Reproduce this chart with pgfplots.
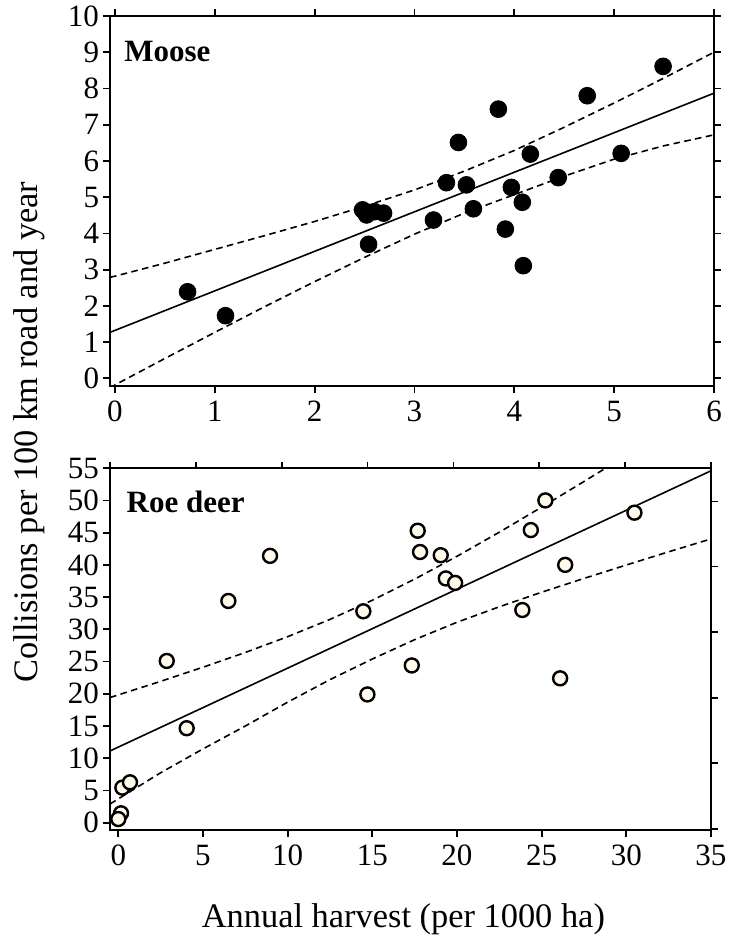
\documentclass[border=0pt]{standalone}
\usepackage{fontspec}
\setmainfont{Liberation Serif}
\usepackage{pgfplots}
\pgfplotsset{compat=1.18}

\definecolor{cream}{HTML}{FFF9EA}

\pgfplotsset{
  panel/.style={
    scale only axis,
    anchor=south west,
    axis line style={line width=1pt},
    every tick/.style={line width=0.9pt, black},
    major tick length=3.3pt,
    tick align=outside,
    ticklabel style={font=\fontsize{15.5}{18}\selectfont},
    yticklabel style={inner sep=2pt},
    xticklabel style={inner sep=4pt},
    /pgf/number format/assume math mode=true,
  },
  fit/.style={black, line width=0.8pt, no marks},
  band/.style={black, line width=0.8pt, no marks, dash pattern=on 3.3pt off 2.2pt},
}

\begin{document}
\begin{tikzpicture}

% ---- Moose ----
\begin{axis}[panel,
    at={(55pt,276pt)}, width=302pt, height=185pt,
    xmin=-0.05, xmax=6, ymin=-0.21, ymax=10,
    xtick={0,...,6}, ytick={0,...,10},
  ]
  \addplot[band] coordinates {
    (-0.05,2.79) (0,2.82) (0.5,3.18) (1,3.56) (1.5,3.94) (2,4.33) (2.5,4.75)
    (3,5.20) (3.5,5.72) (4,6.29) (4.5,6.93) (5,7.60) (5.5,8.29) (6,9.00)
  };
  \addplot[band] coordinates {
    (-0.05,-0.27) (0,-0.18) (0.5,0.55) (1,1.27) (1.5,1.98) (2,2.67) (2.5,3.34)
    (3,3.98) (3.5,4.56) (4,5.07) (4.5,5.58) (5,6.05) (5.5,6.42) (6,6.72)
  };
  \addplot[fit] coordinates {(-0.05,1.27) (6,7.87)};
  \addplot[only marks, mark=*, mark size=4.2pt, mark options={fill=black, draw=black}]
    coordinates {
    (0.727,2.39) (1.107,1.73) (2.48,4.65) (2.52,4.51) (2.60,4.60) (2.69,4.56)
    (2.54,3.70) (3.19,4.37) (3.32,5.40) (3.44,6.51) (3.52,5.34) (3.59,4.68)
    (3.84,7.43) (3.91,4.12) (3.97,5.27) (4.08,4.86) (4.09,3.11) (4.16,6.19)
    (4.44,5.54) (4.73,7.80) (5.07,6.21) (5.49,8.61)
  };
  \node[anchor=west, font=\fontsize{15.5}{18}\selectfont\bfseries]
    at (rel axis cs:0.012,0.903) {Moose};
\end{axis}

% ---- Roe deer ----
\begin{axis}[panel,
    at={(55pt,54pt)}, width=300.5pt, height=180.9pt,
    xmin=-0.49, xmax=35, ymin=-1.13, ymax=55,
    xtick={0,5,...,35}, ytick={0,5,...,55},
    xtick pos=left, ytick pos=left,
  ]
  \addplot[band] coordinates {
    (-0.49,19.42) (2.5,21.93) (5,24.12) (7.5,26.41) (10,28.86) (12.5,31.54)
    (15,34.51) (17.5,37.79) (20,41.33) (22.5,45.07) (25,48.96) (27.5,52.94) (30,56.98)
  };
  \addplot[band] coordinates {
    (-0.49,2.90) (2.5,7.75) (5,11.45) (7.5,15.0) (10,18.7) (12.5,22.2)
    (15,25.4) (17.5,28.4) (20,31.1) (22.5,33.5) (25,35.76) (27.5,37.90)
    (30,39.98) (32.5,42.03) (35,44.03)
  };
  \addplot[fit] coordinates {(-0.49,11.13) (35,54.6)};
  \addplot[only marks, mark=*, mark size=3.5pt,
    mark options={fill=cream, draw=black, line width=1.2pt}]
    coordinates {
    (2.86,25.1) (4.04,14.66) (6.50,34.4) (8.96,41.4) (0.24,5.44) (0.69,6.27)
    (0.16,1.46) (0.0,0.57) (14.47,32.8) (14.71,19.9) (17.33,24.4) (17.68,45.3)
    (17.82,42.0) (19.04,41.5) (19.34,37.9) (19.89,37.2) (23.86,33.0) (24.36,45.4)
    (25.22,50.0) (26.09,22.4) (26.39,40.0) (30.48,48.1)
  };
  \node[anchor=west, font=\fontsize{15.5}{18}\selectfont\bfseries]
    at (rel axis cs:0.016,0.906) {Roe deer};
\end{axis}

% top and right tick marks of the lower panel sit on their own spacing
\begin{axis}[panel,
    at={(55pt,54pt)}, width=300.5pt, height=180.9pt,
    xmin=0, xmax=7, ymin=-1.13, ymax=55,
    xtick={0,...,7}, ytick={-0.93,9.22,19.41,29.57,39.75,49.84},
    xtick pos=right, ytick pos=right,
    xticklabels={}, yticklabels={},
  ]
\end{axis}

\node[rotate=90, anchor=base, font=\fontsize{17.2}{20}\selectfont]
  at (19pt,253pt) {Collisions per 100 km road and year};
\node[anchor=base, font=\fontsize{17.2}{20}\selectfont]
  at (201.7pt,5.4pt) {Annual harvest (per 1000 ha)};

\pgfresetboundingbox
\path[use as bounding box] (0,0) rectangle (366pt,469pt);
\end{tikzpicture}
\end{document}
